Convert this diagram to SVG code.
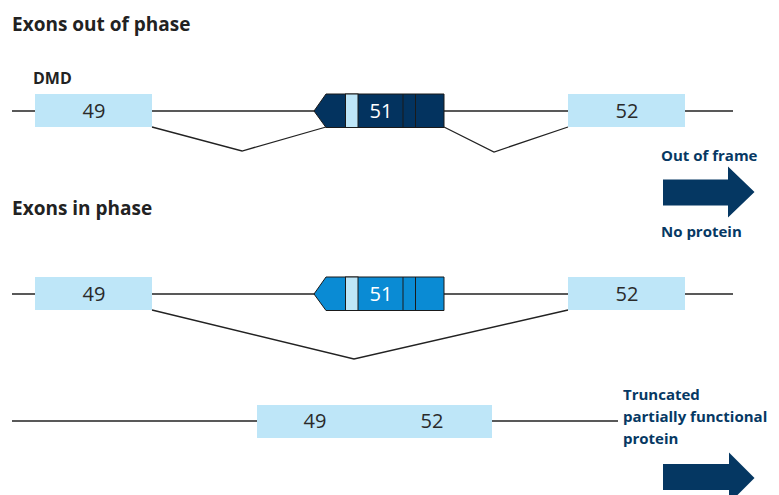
<svg xmlns="http://www.w3.org/2000/svg" width="779" height="495" viewBox="0 0 779 495">
<style>
.line{stroke:#222;stroke-width:1.3;fill:none}
.exon{fill:#bee6f8}
.num{font-family:"Open Sans","Liberation Sans",sans-serif;font-size:20px;fill:#2a2a2a;text-anchor:middle}
.numw{font-family:"Open Sans","Liberation Sans",sans-serif;font-size:20px;fill:#ffffff;text-anchor:middle}
.head{font-family:"Open Sans","Liberation Sans",sans-serif;font-weight:bold;font-size:19px;fill:#222}
.lbl{font-family:"Open Sans","Liberation Sans",sans-serif;font-weight:bold;font-size:15px;fill:#063863}
.sep{stroke:#1a1a1a;stroke-width:1;fill:none}
.arrow{fill:#053762}
</style>
<rect width="779" height="495" fill="#ffffff"/>
<text class="head" x="12" y="31">Exons out of phase</text>
<text class="head" x="12" y="215">Exons in phase</text>
<text class="head" x="33" y="84" style="font-size:16px">DMD</text>
<g id="connectors">
<line class="line" x1="12" y1="111" x2="733" y2="111"/>
<polyline class="line" points="152,127 242,151 326,127"/>
<polyline class="line" points="444,127 494,152 568,127"/>
<line class="line" x1="12" y1="294" x2="733" y2="294"/>
<polyline class="line" points="152,310 354,359 568,310"/>
<line class="line" x1="12" y1="421" x2="618" y2="421"/>
</g>
<g id="exon49a"><rect class="exon" x="35" y="94" width="117" height="33"/><text class="num" x="94" y="118">49</text></g>
<g id="exon51a">
<path d="M314,111 L326,94 L444,94 L444,127.5 L326,127.5 Z" fill="#03335f" stroke="#1a1a1a" stroke-width="1"/>
<rect x="345.5" y="94" width="12.5" height="33.5" fill="#bee6f8" stroke="#1a1a1a" stroke-width="1"/>
<line class="sep" x1="403" y1="94" x2="403" y2="127.5"/>
<line class="sep" x1="415.5" y1="94" x2="415.5" y2="127.5"/>
<text class="numw" x="381" y="118">51</text>
</g>
<g id="exon52a"><rect class="exon" x="568" y="94" width="117" height="33"/><text class="num" x="627" y="118">52</text></g>
<g id="exon49b"><rect class="exon" x="35" y="277" width="117" height="33"/><text class="num" x="94" y="301">49</text></g>
<g id="exon51b">
<path d="M314,294 L326,277 L444,277 L444,310.5 L326,310.5 Z" fill="#0a8bd4" stroke="#1a1a1a" stroke-width="1"/>
<rect x="345.5" y="277" width="12.5" height="33.5" fill="#bee6f8" stroke="#1a1a1a" stroke-width="1"/>
<line class="sep" x1="403" y1="277" x2="403" y2="310.5"/>
<line class="sep" x1="415.5" y1="277" x2="415.5" y2="310.5"/>
<text class="numw" x="381" y="301">51</text>
</g>
<g id="exon52b"><rect class="exon" x="568" y="277" width="117" height="33"/><text class="num" x="627" y="301">52</text></g>
<g id="exon4952"><rect class="exon" x="257" y="405" width="235" height="33"/><text class="num" x="315" y="428">49</text><text class="num" x="432" y="428">52</text></g>
<g id="arrow1"><path class="arrow" d="M663,179.5 L728,179.5 L728,166.5 L754.5,192 L728,217.5 L728,205.5 L663,205.5 Z"/></g>
<text class="lbl" x="661" y="161">Out of frame</text>
<text class="lbl" x="661" y="237">No protein</text>
<g id="arrow2"><path class="arrow" d="M663,464 L729,464 L729,452.5 L754.5,478 L729,503.5 L729,490 L663,490 Z"/></g>
<text class="lbl" x="623" y="400">Truncated</text>
<text class="lbl" x="623" y="422">partially functional</text>
<text class="lbl" x="623" y="444">protein</text>
</svg>
